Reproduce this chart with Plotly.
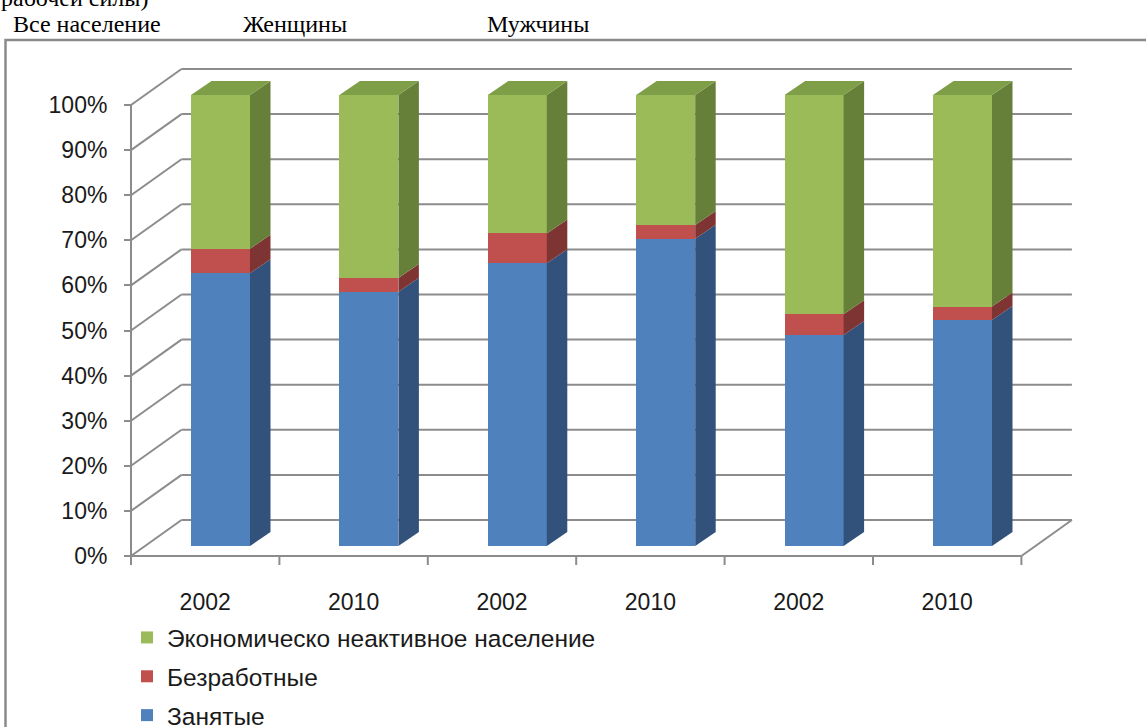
import plotly.graph_objects as go

# ---------------- data ----------------
group_labels = ["Все население", "Женщины", "Мужчины"]
years = ["2002", "2010", "2002", "2010", "2002", "2010"]
employed = [60.5, 56.4, 62.7, 68.1, 46.8, 50.1]
unemployed = [5.4, 3.0, 6.6, 3.1, 4.6, 3.0]
inactive = [34.1, 40.6, 30.7, 28.8, 48.6, 46.9]
series_names = ["Занятые", "Безработные", "Экономическо неактивное население"]
series_values = [employed, unemployed, inactive]
legend_ranks = [3, 2, 1]
y_ticks = [0, 10, 20, 30, 40, 50, 60, 70, 80, 90, 100]
top_caption = "рабочей силы)"

# ---------------- style ----------------
front_colors = ["#4F81BD", "#C0504D", "#9BBB59"]
side_colors = ["#32527B", "#7E3432", "#66803A"]
top_color = "#7F9E48"
grid_color = "#8C8C8C"
font_main = "Liberation Sans"
font_serif = "Liberation Serif"
text_color = "#1a1a1a"

W, H = 1146, 727
L, R, T, B = 100, 46, 40, 127
PW, PH = W - L - R, H - T - B

# bar-face plane mapping (pixels)
X0, XS = 220.5, 148.4
Y0, YS = 546.0, 4.51
x_range = [(L - X0) / XS, (L + PW - X0) / XS]
y_range = [(Y0 - (T + PH)) / YS, (Y0 - T) / YS]


def dxu(px):
    return px / XS


def dyu(px):
    return px / YS


FX, FY = dxu(-15.3), dyu(-10)   # front plane offset
BX, BY = dxu(35.2), dyu(26)     # back wall offset
DX, DY = dxu(20.5), dyu(14)     # bar depth
BW = 59 / XS                    # bar width
n = len(years)

# front plane axis mapping (for tick labels)
FX0 = X0 - 15.3
FY0 = Y0 + 10
x2_range = [(L - FX0) / XS, (L + PW - FX0) / XS]
y2_range = [(FY0 - (T + PH)) / YS, (FY0 - T) / YS]


def px_x(px):
    return (px - L) / PW


def px_y(py):
    return (T + PH - py) / PH


fig = go.Figure()
xs = list(range(n))
for name, vals, col, rk in zip(series_names, series_values, front_colors, legend_ranks):
    fig.add_trace(go.Bar(
        x=xs, y=vals, name=name, width=BW,
        marker=dict(color=col, line=dict(width=0)),
        legendgroup=name, legendrank=rk, hoverinfo="skip",
    ))
# carrier trace so the front-plane label axes are drawn
fig.add_trace(go.Scatter(x=[None], y=[None], xaxis="x2", yaxis="y2",
                         showlegend=False, hoverinfo="skip", mode="markers"))

shapes = []
line_style = dict(color=grid_color, width=2)

# back wall horizontal grid lines and left wall diagonals
for v in y_ticks:
    shapes.append(dict(type="line", xref="x", yref="y", layer="below",
                       x0=-0.5 + BX, x1=(n - 0.5) + BX, y0=v + BY, y1=v + BY, line=line_style))
    shapes.append(dict(type="line", xref="x", yref="y", layer="below",
                       x0=-0.5 + FX, x1=-0.5 + BX, y0=v + FY, y1=v + BY, line=line_style))
# floor front edge and right diagonal
shapes.append(dict(type="line", xref="x", yref="y", layer="below",
                   x0=-0.5 + FX, x1=(n - 0.5) + FX, y0=FY, y1=FY, line=line_style))
shapes.append(dict(type="line", xref="x", yref="y", layer="below",
                   x0=(n - 0.5) + FX, x1=(n - 0.5) + BX, y0=FY, y1=BY, line=line_style))
# front vertical axis
shapes.append(dict(type="line", xref="x", yref="y", layer="below",
                   x0=-0.5 + FX, x1=-0.5 + FX, y0=FY, y1=y_ticks[-1] + FY, line=line_style))
# category boundary ticks
for k in range(n + 1):
    shapes.append(dict(type="line", xref="x", yref="y", layer="below",
                       x0=k - 0.5 + FX, x1=k - 0.5 + FX, y0=FY, y1=FY - dyu(9), line=line_style))

# 3D side and top faces of bars
for i in range(n):
    base = 0.0
    xr_ = i + BW / 2
    for vals, scol in zip(series_values, side_colors):
        top = base + vals[i]
        path = (f"M{xr_},{base} L{xr_ + DX},{base + DY} L{xr_ + DX},{top + DY} "
                f"L{xr_},{top} Z")
        shapes.append(dict(type="path", xref="x", yref="y", layer="above",
                           path=path, fillcolor=scol, line=dict(width=0)))
        base = top
    xl_ = i - BW / 2
    path = (f"M{xl_},{base} L{xr_},{base} L{xr_ + DX},{base + DY} "
            f"L{xl_ + DX},{base + DY} Z")
    shapes.append(dict(type="path", xref="x", yref="y", layer="above",
                       path=path, fillcolor=top_color, line=dict(width=0)))

# outer frame
shapes.append(dict(type="rect", xref="paper", yref="paper",
                   x0=px_x(5.5), x1=px_x(1300), y0=px_y(40), y1=px_y(900),
                   line=dict(color="#8A8A8A", width=2.5), fillcolor="rgba(0,0,0,0)"))

annotations = []
annotations.append(dict(text=top_caption, xref="paper", yref="paper",
                        x=px_x(-1), y=px_y(-2), xanchor="left", yanchor="middle",
                        showarrow=False, font=dict(family=font_serif, size=24, color="black")))
for lab, xpx in zip(group_labels, [11, 241, 485]):
    annotations.append(dict(text=lab, xref="paper", yref="paper",
                            x=px_x(xpx), y=px_y(24.5), xanchor="left", yanchor="middle",
                            showarrow=False, font=dict(family=font_serif, size=24, color="black")))

fig.update_layout(
    width=W, height=H,
    margin=dict(l=L, r=R, t=T, b=B, pad=0, autoexpand=False),
    paper_bgcolor="white", plot_bgcolor="white",
    barmode="stack", bargap=0,
    showlegend=True,
    legend=dict(x=px_x(127), y=px_y(615), xanchor="left", yanchor="top",
                traceorder="grouped", tracegroupgap=4,
                font=dict(family=font_main, size=24.5, color=text_color),
                bgcolor="rgba(0,0,0,0)", itemwidth=30),
    xaxis=dict(range=x_range, visible=False, fixedrange=True),
    yaxis=dict(range=y_range, visible=False, fixedrange=True),
    xaxis2=dict(range=x2_range, overlaying="x", anchor="free", position=px_y(586),
                tickmode="array", tickvals=xs, ticktext=years, ticks="",
                showgrid=False, zeroline=False, showline=False, fixedrange=True,
                tickfont=dict(family=font_main, size=23, color=text_color)),
    yaxis2=dict(range=y2_range, overlaying="y", anchor="free", position=px_x(131),
                tickmode="array", tickvals=y_ticks, ticktext=[f"{v}%" for v in y_ticks],
                ticks="outside", ticklen=7, tickwidth=2, tickcolor=grid_color,
                ticklabelstandoff=12, fixedrange=True,
                showgrid=False, zeroline=False, showline=False,
                tickfont=dict(family=font_main, size=23, color=text_color)),
    shapes=shapes, annotations=annotations,
)

fig.write_html("out.html", config={"displayModeBar": False},
               post_script="document.body.style.margin='0';document.body.style.overflow='hidden';")
